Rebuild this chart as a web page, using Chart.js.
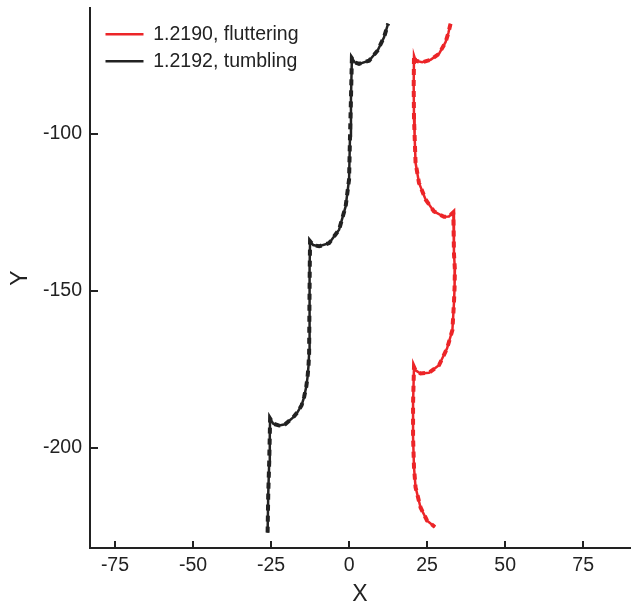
<!DOCTYPE html>
<html>
<head>
<meta charset="utf-8">
<script src="https://cdn.jsdelivr.net/npm/chart.js@4.4.1/dist/chart.umd.min.js"></script>
<style>
  body { margin:0; background:#fff; }
  #wrap { width:631px; height:604px; position:relative; }
</style>
</head>
<body>
<div id="wrap"><canvas id="traj"></canvas></div>
<script>
// ---------------- DATA ----------------
const seriesNames = ["1.2190, fluttering", "1.2192, tumbling"];

const redX = [32.5, 31.8, 30.9, 28.8, 26.1, 23.4, 21.3, 20.8, 20.7, 20.8, 21.0, 21.3, 22.4, 24.5, 27.2, 30.4, 32.0, 33.4,
              33.6, 33.9, 33.8, 33.6, 33.1, 31.4, 28.8, 25.6, 22.9, 21.3, 20.8, 20.5, 20.5, 20.8, 21.3, 22.9, 25.0, 27.5];
const redY = [-65.0, -68.0, -70.9, -74.6, -76.5, -77.3, -76.8, -75.2, -84.8, -95.0, -100.8, -109.3, -115.7, -121.0, -124.8, -126.5, -126.4, -125.1,
              -138.1, -143.4, -149.0, -154.0, -162.6, -168.4, -173.8, -176.2, -176.4, -175.4, -174.3, -186.0, -196.7, -206.3, -212.7, -219.1, -223.3, -225.3];

const blackX = [-26.1, -25.9, -25.6, -25.4, -25.3, -24.3, -22.4, -20.5, -18.0, -16.5, -15.2, -14.4, -13.7, -13.3, -13.0, -12.8, -12.7, -12.6, -12.5,
                -11.5, -9.6, -6.4, -3.2, -1.1, 0.0, 0.3, 0.6, 0.9, 1.8, 3.2, 6.4, 9.1, 11.2, 12.5];
const blackY = [-227.1, -215.0, -205.0, -196.0, -190.8, -192.4, -193.0, -192.6, -190.5, -188.7, -186.5, -183.9, -180.5, -177.5, -174.0, -170.0, -155.0, -143.0, -134.3,
                -135.5, -135.9, -134.9, -130.6, -123.2, -114.6, -100.8, -89.0, -76.0, -77.3, -77.8, -76.8, -73.6, -69.3, -65.0];

const xTicks = [-75, -50, -25, 0, 25, 50, 75];
const yTicks = [-200, -150, -100];

// ---------------- BUILD ----------------
function pts(xs, ys){
    return xs.map((x,i)=>({x:x, y:ys[i]}));
}

const RED = "#ec2528";
const INK = "#222222";
const FONT = "'Liberation Sans', Arial, sans-serif";

function solid(label, data, color){
    return { label:label, data:data, borderColor:color, backgroundColor:color,
             borderWidth:2.5, showLine:true, pointRadius:0, tension:0 };
}
function dashed(data, color){
    return { label:"_dash", data:data, borderColor:color, backgroundColor:color,
             borderWidth:4, borderDash:[6,5], showLine:true, pointRadius:0, tension:0 };
}

const redPts = pts(redX, redY);
const blackPts = pts(blackX, blackY);

// inward tick marks + legend nudge into the plot corner
const inwardTicks = {
    id:"inwardTicks",
    afterLayout(chart){
        const lg = chart.legend;
        if (lg){
            lg.left += 8; lg.right += 8;
            lg.top += 17; lg.bottom += 17;
        }
    },
    afterDraw(chart){
        const ctx = chart.ctx;
        const a = chart.chartArea;
        const xs = chart.scales.x, ys = chart.scales.y;
        ctx.save();
        ctx.strokeStyle = INK;
        ctx.lineWidth = 2;
        ctx.beginPath();
        xTicks.forEach(v=>{
            const p = Math.round(xs.getPixelForValue(v));
            ctx.moveTo(p, a.bottom);
            ctx.lineTo(p, a.bottom - 7);
        });
        yTicks.forEach(v=>{
            const p = Math.round(ys.getPixelForValue(v));
            ctx.moveTo(a.left, p);
            ctx.lineTo(a.left + 8, p);
        });
        ctx.stroke();
        ctx.restore();
    }
};

new Chart(document.getElementById("traj"), {
    type:"scatter",
    data:{
        datasets:[
            solid(seriesNames[0], redPts, RED),
            solid(seriesNames[1], blackPts, INK),
            dashed(redPts, RED),
            dashed(blackPts, INK)
        ]
    },
    options:{
        responsive:true,
        maintainAspectRatio:false,
        animation:false,
        layout:{ padding:{ top:8, right:1, left:0, bottom:0 } },
        plugins:{
            tooltip:{ enabled:false },
            legend:{
                position:"chartArea",
                align:"start",
                labels:{
                    filter:(item)=>item.text !== "_dash",
                    usePointStyle:true,
                    pointStyle:"line",
                    pointStyleWidth:38,
                    boxHeight:19.5,
                    padding:7.5,
                    color:INK,
                    font:{ family:FONT, size:19.5 }
                }
            }
        },
        scales:{
            x:{
                type:"linear",
                min:-83, max:90,
                afterBuildTicks:(s)=>{ s.ticks = xTicks.map(v=>({value:v})); },
                afterFit:(s)=>{ s.height = 56; s.paddingLeft = 0; s.paddingRight = 0; },
                grid:{ display:false, drawTicks:false },
                border:{ display:true, color:INK, width:2 },
                ticks:{ color:INK, padding:6, font:{ family:FONT, size:19.5 } },
                title:{ display:true, text:"X", color:INK, padding:0,
                        font:{ family:FONT, size:23, lineHeight:0.85 } }
            },
            y:{
                type:"linear",
                min:-232, max:-60,
                afterBuildTicks:(s)=>{ s.ticks = yTicks.map(v=>({value:v})); },
                afterFit:(s)=>{ s.width = 90; s.paddingTop = 0; s.paddingBottom = 0; },
                grid:{ display:false, drawTicks:false },
                border:{ display:true, color:INK, width:2 },
                ticks:{ color:INK, padding:8, font:{ family:FONT, size:19.5 } },
                title:{ display:true, text:"Y", color:INK, padding:{ top:9, bottom:0 },
                        font:{ family:FONT, size:23, lineHeight:1 } }
            }
        }
    },
    plugins:[inwardTicks]
});
</script>
</body>
</html>
